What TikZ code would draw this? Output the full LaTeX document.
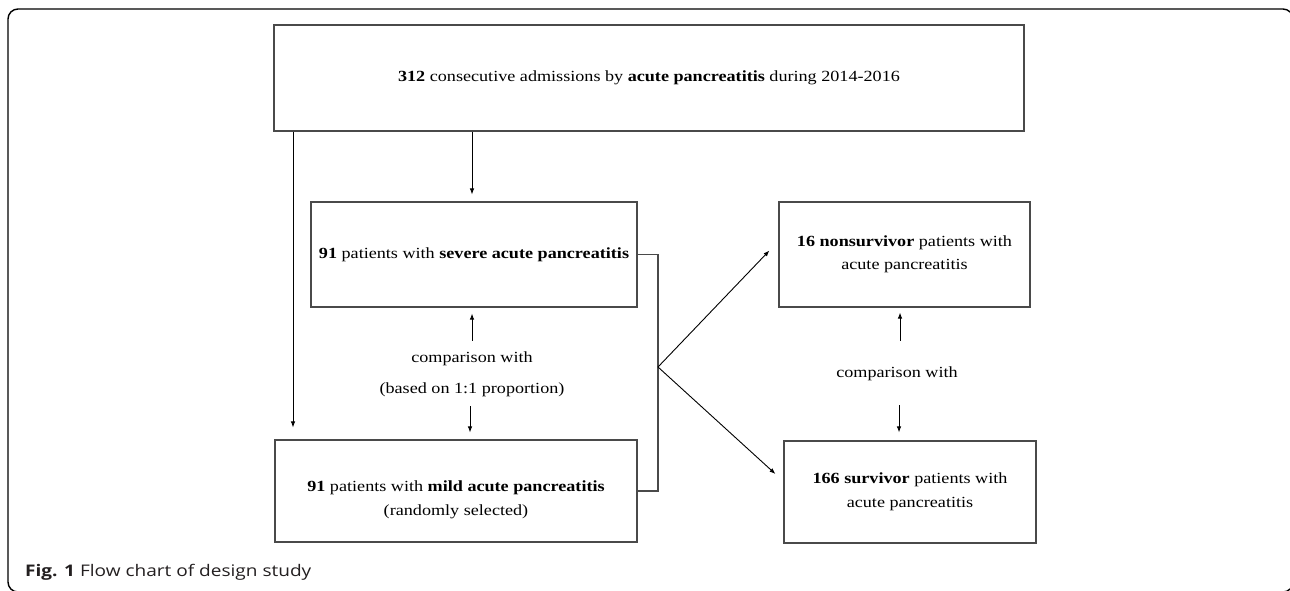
\documentclass[tikz,border=0pt]{standalone}
\usepackage{fontspec}
\setmainfont{Liberation Serif}[FakeStretch=1.17]
\newfontfamily\capfont{Open Sans}[FakeStretch=1.19]
\usetikzlibrary{arrows.meta,calc}
\definecolor{boxgray}{HTML}{4A4A4A}
\definecolor{capgray}{HTML}{231F20}
\begin{document}
\begin{tikzpicture}[x=1pt,y=-1pt,
  box/.style={draw=boxgray,line width=1.1pt,inner sep=0pt,align=center,font=\fontsize{15.5}{23.5}\selectfont},
  txt/.style={inner sep=0pt,align=center,font=\fontsize{15.5}{23.5}\selectfont},
  arr/.style={draw=black,line width=0.9pt,-{Latex[length=6pt,width=4.5pt]}},
  con/.style={draw=boxgray,line width=1.1pt}]
\useasboundingbox (0,0) rectangle (1290,590);
\fill[white] (0,0) rectangle (1290,590);
\draw[line width=1.4pt,rounded corners=10pt] (8,9) rectangle (1293,592);

\node[box,minimum width=750pt,minimum height=106pt] (top) at (649,78)
  {\textbf{312} consecutive admissions by \textbf{acute pancreatitis} during 2014-2016};
\node[box,minimum width=326pt,minimum height=105pt] (sev) at (474,254.5)
  {\textbf{91} patients with \textbf{severe acute pancreatitis}};
\node[box,minimum width=362pt,minimum height=102pt] (mild) at (456,491)
  {\rule{0pt}{28pt}\textbf{91} patients with \textbf{mild acute pancreatitis}\\(randomly selected)};
\node[box,minimum width=251pt,minimum height=105pt] (ns) at (904.5,254.5)
  {\textbf{16 nonsurvivor} patients with\\acute pancreatitis};
\node[box,minimum width=252pt,minimum height=102pt] (sv) at (910,492)
  {\textbf{166 survivor} patients with\\acute pancreatitis};

\node[txt] (c1) at (472,374.5) {comparison with\\[7.5pt](based on 1:1 proportion)};
\node[txt] (c2) at (897,374) {comparison with};

\node[anchor=base west,inner sep=0pt,text=capgray,font=\capfont\fontsize{16}{19}\selectfont] (cap) at (25,576)
  {\textbf{Fig. 1} Flow chart of design study};

\coordinate (lx) at (293,0);
\coordinate (bp) at (658,367);

\draw[arr] ($(top.south)+(-177,0)$) -- ($(sev.north)+(-2,-7)$);
\draw[arr] (top.south -| lx) -- ($(mild.north -| lx)+(0,-12)$);
\draw[arr] ($(sev.south)+(-2,33)$) -- ($(sev.south)+(-2,6)$);
\draw[arr] ($(mild.north)+(14,-33)$) -- ($(mild.north)+(14,-7)$);
\draw[con] (sev.east) -- (sev.east -| bp) -- (mild.east -| bp) -- (mild.east);
\draw[arr] (bp) -- ($(ns.west)+(-9,-4)$);
\draw[arr] (bp) -- ($(sv.west)+(-8,-18)$);
\draw[arr] ($(ns.south)+(-4.5,33)$) -- ($(ns.south)+(-4.5,5)$);
\draw[arr] ($(sv.north)+(-11,-35)$) -- ($(sv.north)+(-11,-8)$);
\end{tikzpicture}
\end{document}
